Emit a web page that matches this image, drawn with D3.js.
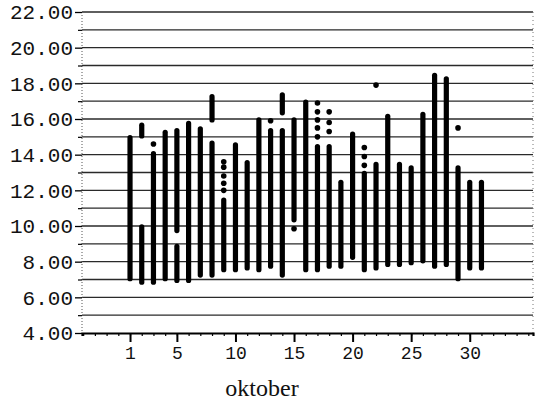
<!DOCTYPE html>
<html>
<head>
<meta charset="utf-8">
<script src="https://cdn.jsdelivr.net/npm/d3@7"></script>
<style>
  body { margin: 0; background: #fff; }
  svg { display: block; }
</style>
</head>
<body>
<div id="chart"></div>
<script>
// bars: [day, low, high] ; a day can have more than one bar
var bars = [
  [1, 6.9, 15.1],
  [2, 6.7, 10.1], [2, 14.9, 15.8],
  [3, 6.7, 14.2],
  [4, 6.9, 15.4],
  [5, 6.8, 9.0], [5, 9.6, 15.5],
  [6, 6.8, 15.9],
  [7, 7.1, 15.6],
  [8, 7.1, 14.8], [8, 15.8, 17.4],
  [9, 7.4, 11.6],
  [10, 7.4, 14.7],
  [11, 7.5, 13.7],
  [12, 7.4, 16.1],
  [13, 7.6, 15.5],
  [14, 7.1, 15.5], [14, 16.2, 17.5],
  [15, 10.2, 16.1],
  [16, 7.4, 17.1],
  [17, 7.4, 14.6],
  [18, 7.6, 14.6],
  [19, 7.6, 12.6],
  [20, 8.1, 15.3],
  [21, 7.4, 13.1],
  [22, 7.5, 13.6],
  [23, 7.7, 16.3],
  [24, 7.7, 13.6],
  [25, 7.8, 13.4],
  [26, 7.9, 16.4],
  [27, 7.6, 18.6],
  [28, 7.7, 18.4],
  [29, 6.9, 13.4],
  [30, 7.5, 12.6],
  [31, 7.5, 12.6]
];

// single readings drawn as dots: [day, value]
var dots = [
  [3, 14.6],
  [9, 12.0], [9, 12.4], [9, 12.8], [9, 13.3], [9, 13.6],
  [13, 15.9],
  [15, 9.85],
  [17, 15.0], [17, 15.5], [17, 15.95], [17, 16.4], [17, 16.9],
  [18, 15.3], [18, 15.8], [18, 16.4],
  [21, 13.4], [21, 13.9], [21, 14.4],
  [22, 17.9],
  [29, 15.5]
];

var yTicks = [4, 6, 8, 10, 12, 14, 16, 18, 20, 22];
var xTicks = [1, 5, 10, 15, 20, 25, 30];
var xLabel = "oktober";

var width = 535,
    height = 406;

var x = d3.scaleLinear().domain([-3.1, 35.4]).range([82, 533]);
var y = d3.scaleLinear().domain([4, 22]).range([333, 12]);

var svg = d3.select("#chart").append("svg")
    .attr("width", width)
    .attr("height", height);

// horizontal lines, one per degree
svg.append("g")
    .selectAll("line")
    .data(d3.range(5, 23))
    .enter().append("line")
    .attr("x1", x.range()[0])
    .attr("x2", x.range()[1])
    .attr("y1", function(d) { return y(d); })
    .attr("y2", function(d) { return y(d); })
    .attr("stroke", "#2a2a2a")
    .attr("stroke-width", 1.3);

// dotted frame sides
svg.append("line")
    .attr("x1", 82).attr("x2", 82)
    .attr("y1", y(22)).attr("y2", y(4))
    .attr("stroke", "#555")
    .attr("stroke-dasharray", "1,2");
svg.append("line")
    .attr("x1", 533).attr("x2", 533)
    .attr("y1", y(22)).attr("y2", y(4))
    .attr("stroke", "#777")
    .attr("stroke-dasharray", "1,3");

// y axis: major ticks with labels, minor ticks at odd values
var yAxis = d3.axisLeft(y)
    .tickValues(yTicks)
    .tickSize(7)
    .tickPadding(2)
    .tickFormat(d3.format(".2f"));
var gy = svg.append("g")
    .attr("transform", "translate(82,0)")
    .call(yAxis);
gy.select(".domain").remove();
gy.selectAll(".tick line").attr("stroke", "#000").attr("stroke-width", 1.3);
gy.selectAll(".tick text")
    .attr("font-family", "Liberation Mono, monospace")
    .attr("font-size", 21)
    .attr("fill", "#111");
svg.append("g")
    .attr("transform", "translate(82,0)")
    .call(d3.axisLeft(y).tickValues(d3.range(5, 22, 2)).tickSize(4).tickFormat(""))
    .call(function(g) { g.select(".domain").remove(); })
    .selectAll(".tick line").attr("stroke", "#000").attr("stroke-width", 1.2);

// x axis
svg.append("g")
    .attr("transform", "translate(0," + y(4) + ")")
    .call(d3.axisBottom(x).tickValues(d3.range(-3, 36)).tickSize(3).tickFormat(""))
    .call(function(g) {
        g.select(".domain").attr("stroke", "#000").attr("stroke-width", 2.2);
        g.selectAll(".tick line").attr("stroke", "#000").attr("stroke-width", 1.2);
    });
var gx = svg.append("g")
    .attr("transform", "translate(0," + y(4) + ")")
    .call(d3.axisBottom(x).tickValues(xTicks).tickSize(9).tickPadding(4).tickFormat(d3.format("d")));
gx.select(".domain").remove();
gx.selectAll(".tick line").attr("stroke", "#000").attr("stroke-width", 2);
gx.selectAll(".tick text")
    .attr("font-family", "Liberation Mono, monospace")
    .attr("font-size", 18)
    .attr("fill", "#111");

svg.append("text")
    .attr("x", 262)
    .attr("y", 396)
    .attr("text-anchor", "middle")
    .attr("font-family", "Liberation Serif, serif")
    .attr("font-size", 24)
    .attr("fill", "#111")
    .text(xLabel);

// the bars
var cap = 2.6;
svg.append("g")
    .selectAll("line")
    .data(bars)
    .enter().append("line")
    .attr("x1", function(d) { return x(d[0]); })
    .attr("x2", function(d) { return x(d[0]); })
    .attr("y1", function(d) { return y(d[2]) + cap; })
    .attr("y2", function(d) { return y(d[1]) - cap; })
    .attr("stroke", "#000")
    .attr("stroke-width", 5.2)
    .attr("stroke-linecap", "round");

svg.append("g")
    .selectAll("circle")
    .data(dots)
    .enter().append("circle")
    .attr("cx", function(d) { return x(d[0]); })
    .attr("cy", function(d) { return y(d[1]); })
    .attr("r", 2.8)
    .attr("fill", "#000");
</script>
</body>
</html>
